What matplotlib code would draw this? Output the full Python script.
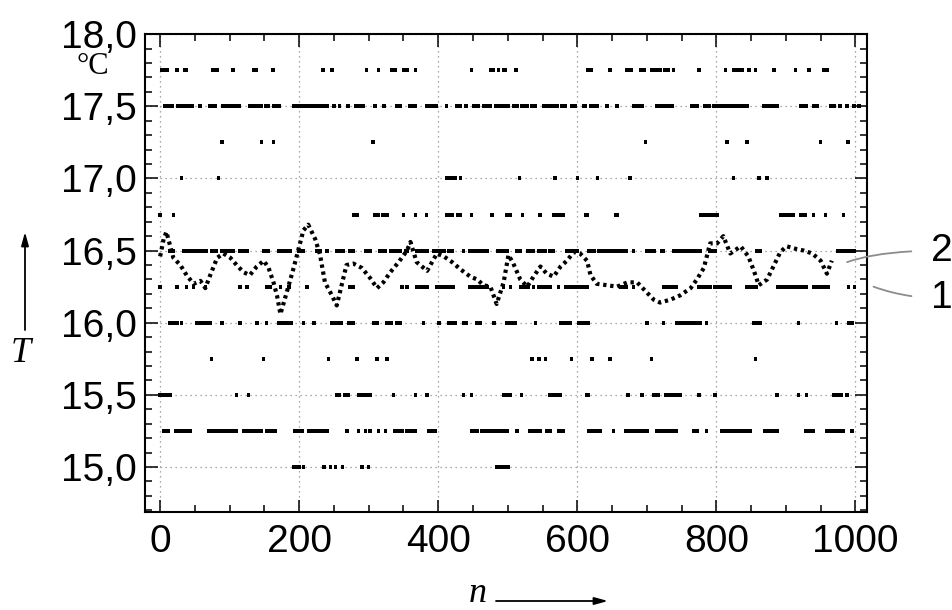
import matplotlib.pyplot as plt
from matplotlib.ticker import MultipleLocator, FuncFormatter

plt.rcParams['font.family'] = ['Liberation Sans', 'DejaVu Sans']

# quantised readings (curve 1): runs of samples (n_start, n_end) per temperature level
q_1775 = [(3, 4), (10, 10), (24, 25), (36, 37), (76, 82), (104, 105), (134, 138), (162, 162),
          (234, 234), (247, 247), (297, 297), (314, 314), (333, 338), (350, 355), (367, 367),
          (448, 448), (475, 479), (487, 487), (494, 497), (512, 512), (615, 620), (647, 647),
          (671, 677), (691, 697), (707, 719), (726, 731), (738, 738), (775, 775), (813, 813),
          (825, 837), (847, 847), (856, 856), (883, 883), (914, 914), (933, 933), (954, 959)]
q_1750 = [(6, 17), (25, 46), (57, 57), (71, 79), (90, 114), (129, 137), (141, 146), (152, 156),
          (163, 172), (192, 240), (250, 250), (258, 258), (270, 270), (282, 292), (309, 309),
          (322, 322), (340, 345), (359, 367), (383, 397), (412, 412), (427, 432), (439, 441),
          (451, 457), (465, 475), (483, 501), (508, 513), (520, 528), (535, 540), (552, 566),
          (571, 571), (578, 583), (592, 597), (609, 612), (619, 628), (643, 643), (657, 657),
          (681, 693), (714, 729), (734, 736), (765, 772), (784, 790), (796, 844), (868, 887),
          (921, 930), (940, 945), (964, 969), (978, 978), (988, 988), (998, 998), (1005, 1005)]
q_1725 = [(89, 89), (146, 146), (163, 163), (306, 306), (698, 698), (815, 815), (844, 844),
          (950, 950), (989, 989)]
q_1700 = [(31, 31), (84, 84), (412, 424), (432, 432), (517, 517), (568, 568), (600, 600),
          (629, 629), (676, 676), (825, 825), (861, 861), (873, 873)]
q_1675 = [(0, 0), (19, 19), (278, 283), (309, 313), (320, 326), (350, 350), (367, 367),
          (383, 383), (412, 420), (428, 432), (448, 448), (477, 477), (499, 504), (521, 521),
          (546, 546), (566, 580), (612, 614), (655, 657), (777, 801), (892, 911), (921, 928),
          (940, 940), (957, 957), (983, 983)]
q_1650 = [(14, 19), (34, 67), (74, 81), (89, 105), (115, 125), (149, 156), (170, 187), (199, 206),
          (225, 230), (240, 240), (254, 264), (273, 278), (295, 302), (316, 324), (331, 345),
          (353, 355), (369, 384), (393, 408), (415, 420), (436, 436), (446, 470), (485, 499),
          (513, 518), (528, 537), (545, 554), (561, 566), (585, 600), (616, 624), (631, 647),
          (652, 671), (681, 681), (700, 710), (722, 724), (739, 777), (791, 798), (858, 863),
          (974, 978), (983, 998)]
q_1625 = [(0, 0), (24, 24), (38, 38), (48, 48), (65, 65), (115, 115), (125, 125), (153, 158),
          (173, 173), (185, 185), (211, 211), (273, 278), (348, 348), (355, 355), (369, 384),
          (398, 422), (446, 460), (466, 470), (494, 494), (504, 504), (518, 530), (537, 537),
          (545, 552), (556, 561), (573, 573), (583, 590), (595, 614), (662, 671), (681, 681),
          (724, 743), (774, 791), (798, 820), (844, 858), (889, 930), (940, 961), (990, 990),
          (999, 999)]
q_1600 = [(14, 24), (31, 31), (53, 72), (89, 89), (115, 115), (139, 139), (153, 153), (170, 189),
          (206, 206), (221, 221), (247, 261), (271, 278), (307, 312), (326, 333), (340, 345),
          (379, 379), (401, 401), (415, 425), (436, 441), (456, 460), (480, 480), (499, 511),
          (540, 540), (576, 590), (602, 616), (700, 700), (724, 724), (743, 772), (777, 777),
          (786, 786), (854, 863), (918, 918), (973, 973), (990, 995)]
q_1575 = [(74, 74), (149, 149), (242, 242), (283, 283), (312, 312), (326, 326), (535, 535),
          (545, 545), (554, 554), (592, 592), (621, 621), (647, 647), (707, 707), (856, 856)]
q_1550 = [(0, 14), (110, 110), (127, 127), (254, 258), (266, 271), (285, 302), (336, 336),
          (367, 367), (384, 384), (436, 436), (448, 448), (494, 504), (520, 520), (561, 575),
          (614, 616), (673, 673), (693, 693), (710, 717), (727, 748), (775, 775), (798, 798),
          (887, 887), (918, 918), (930, 930), (969, 979), (988, 988)]
q_1525 = [(5, 12), (22, 31), (34, 43), (70, 110), (120, 137), (141, 146), (153, 165), (194, 204),
          (213, 240), (269, 269), (285, 285), (295, 295), (302, 302), (314, 314), (324, 324),
          (338, 348), (355, 367), (386, 396), (448, 456), (463, 499), (513, 513), (532, 547),
          (556, 561), (573, 580), (616, 633), (652, 652), (669, 700), (714, 743), (767, 772),
          (786, 786), (808, 849), (870, 887), (928, 940), (959, 983), (995, 995)]
q_1500 = [(192, 200), (206, 206), (236, 236), (245, 245), (252, 252), (262, 262), (290, 290),
          (300, 300), (484, 501)]

levels = [17.75, 17.5, 17.25, 17.0, 16.75, 16.5, 16.25, 16.0, 15.75, 15.5, 15.25, 15.0]
runs = [q_1775, q_1750, q_1725, q_1700, q_1675, q_1650, q_1625, q_1600, q_1575, q_1550,
        q_1525, q_1500]

# smoothed temperature (curve 2)
n_smooth = [0, 5, 9, 19, 29, 38, 48, 58, 65, 72, 82, 91, 101, 110, 120, 129, 139, 149, 156,
            163, 168, 173, 182, 192, 199, 206, 213, 223, 230, 237, 247, 254, 261, 268, 278,
            290, 302, 312, 321, 331, 343, 355, 360, 369, 384, 398, 408, 420, 432, 446, 456,
            465, 475, 484, 494, 501, 508, 518, 528, 537, 547, 556, 566, 576, 585, 595, 604,
            614, 619, 628, 643, 657, 672, 686, 700, 710, 719, 734, 748, 763, 772, 782, 791,
            801, 810, 820, 835, 846, 854, 861, 873, 882, 892, 901, 916, 926, 938, 950, 959, 966]
t_smooth = [16.46, 16.58, 16.63, 16.45, 16.40, 16.33, 16.27, 16.29, 16.24, 16.33, 16.45, 16.48,
            16.45, 16.40, 16.35, 16.33, 16.39, 16.43, 16.38, 16.28, 16.19, 16.06, 16.21, 16.38,
            16.51, 16.64, 16.68, 16.58, 16.47, 16.28, 16.19, 16.12, 16.26, 16.40, 16.41, 16.38,
            16.31, 16.24, 16.28, 16.35, 16.42, 16.50, 16.56, 16.42, 16.36, 16.48, 16.46, 16.42,
            16.37, 16.32, 16.30, 16.26, 16.25, 16.13, 16.28, 16.47, 16.41, 16.30, 16.25, 16.32,
            16.39, 16.34, 16.32, 16.39, 16.43, 16.49, 16.48, 16.43, 16.33, 16.27, 16.26, 16.25,
            16.28, 16.28, 16.21, 16.16, 16.14, 16.16, 16.19, 16.24, 16.30, 16.38, 16.55, 16.55,
            16.60, 16.48, 16.53, 16.46, 16.36, 16.26, 16.30, 16.39, 16.49, 16.53, 16.51, 16.50,
            16.48, 16.43, 16.34, 16.43]

fig = plt.figure(figsize=(9.53, 6.10), dpi=100)
ax = fig.add_axes([0.152, 0.161, 0.758, 0.783])

for lev, segs in zip(levels, runs):
    ax.broken_barh([(a - 2.5, b - a + 5) for a, b in segs], (lev - 0.014, 0.028),
                   facecolors='black', edgecolor='none', zorder=3)

# smoothed curve drawn as a chain of heavy dots
ax.plot(n_smooth, t_smooth, color='black', linestyle=(0, (0.8, 0.9)), lw=3.0, zorder=4)

ax.set_xlim(-22, 1017)
ax.set_ylim(14.69, 18.0)
ax.xaxis.set_major_locator(MultipleLocator(200))
ax.xaxis.set_minor_locator(MultipleLocator(50))
ax.yaxis.set_major_locator(MultipleLocator(0.5))
ax.yaxis.set_minor_locator(MultipleLocator(0.1))
ax.yaxis.set_major_formatter(FuncFormatter(lambda v, p: f"{v:.1f}".replace('.', ',')))
ax.tick_params(which='both', direction='in', top=True, right=True, width=1.1, labelsize=28)
ax.tick_params(which='major', length=9)
ax.tick_params(which='minor', length=5)
ax.tick_params(axis='x', pad=9)
ax.tick_params(axis='y', pad=6)
for s in ax.spines.values():
    s.set_linewidth(1.5)
ax.grid(True, which='major', color='0.55', linestyle=(0, (1, 3)), lw=0.9)
ax.set_axisbelow(True)

# curve labels with gray leaders
ax.annotate('2', xy=(988, 16.42), xytext=(1124, 16.5), fontsize=28, ha='center', va='center',
            annotation_clip=False,
            arrowprops=dict(arrowstyle='-', color='0.55', lw=1.3, shrinkA=12, shrinkB=0,
                            connectionstyle='angle3,angleA=0,angleB=20'))
ax.annotate('1', xy=(1026, 16.25), xytext=(1124, 16.17), fontsize=28, ha='center', va='center',
            annotation_clip=False,
            arrowprops=dict(arrowstyle='-', color='0.55', lw=1.3, shrinkA=12, shrinkB=0,
                            connectionstyle='angle3,angleA=0,angleB=-20'))

serif = ['Liberation Serif', 'DejaVu Serif']
fig.text(93 / 953, 1 - 67 / 610, '°C', fontsize=22, family=serif, ha='center', va='center')
fig.text(21 / 953, 1 - 354 / 610, 'T', fontsize=26, family=serif, style='italic',
         ha='center', va='center')
fig.text(478 / 953, 1 - 594 / 610, 'n', fontsize=26, family=serif, style='italic',
         ha='center', va='center')
arrow = dict(arrowstyle='-|>,head_length=0.8,head_width=0.22', color='black', lw=1.3,
             shrinkA=0, shrinkB=0)
fig.add_artist(plt.Annotation('', xy=(25 / 953, 1 - 232 / 610), xytext=(25 / 953, 1 - 330 / 610),
                              xycoords='figure fraction', textcoords='figure fraction',
                              arrowprops=arrow))
fig.add_artist(plt.Annotation('', xy=(608 / 953, 1 - 601 / 610), xytext=(496 / 953, 1 - 601 / 610),
                              xycoords='figure fraction', textcoords='figure fraction',
                              arrowprops=arrow))

fig.savefig('out.png', dpi=100)
